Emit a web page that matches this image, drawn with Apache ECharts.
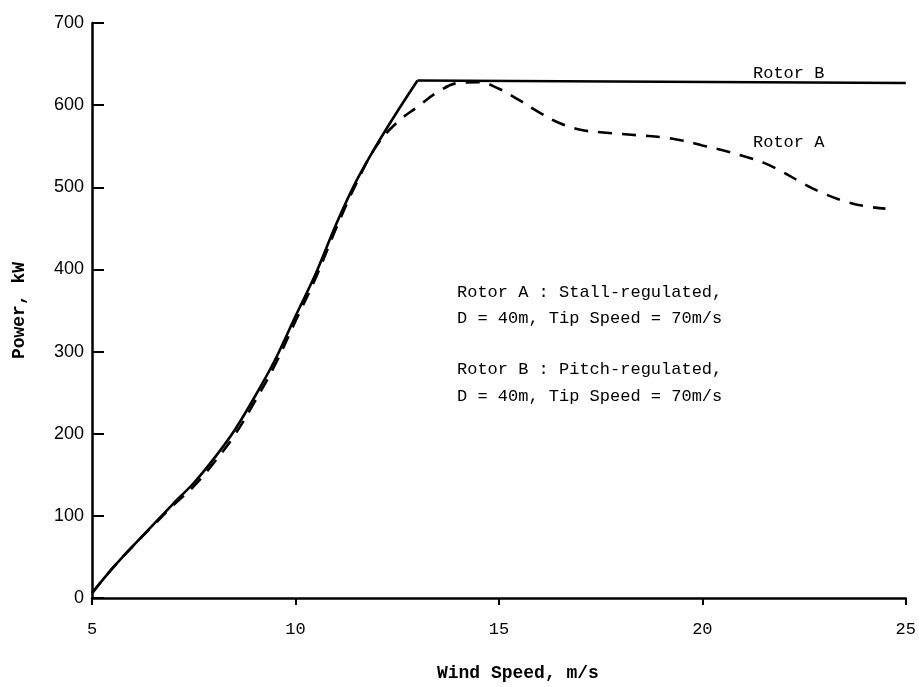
<!DOCTYPE html>
<html><head><meta charset="utf-8">
<script src="https://cdn.jsdelivr.net/npm/echarts@6/dist/echarts.min.js"></script>
<style>html,body{margin:0;padding:0;background:#fff}#c{width:919px;height:687px}</style>
</head><body><div id="c"></div>
<script>
// Rotor B (pitch-regulated, solid): rises to rated power at 13 m/s, then flat
const windB = [5, 5.5, 6, 6.5, 7, 7.5, 8, 8.5, 9, 9.5, 10, 10.5, 11, 11.5, 12, 12.5, 13, 25];
const powerB = [6, 36, 63, 89, 115, 140, 170, 204, 245, 290, 343, 395, 455, 508, 552, 592, 630, 627];
const ratedIndexB = 16; // index of the 13 m/s corner
// Rotor A (stall-regulated, dashed)
const windA = [5, 5.5, 6, 6.5, 7, 7.5, 8, 8.5, 9, 9.5, 10, 10.5, 11, 11.5, 12, 12.5, 13, 13.5, 14, 14.5, 15, 15.5, 16, 16.5, 17, 17.5, 18, 18.5, 19, 19.5, 20, 20.5, 21, 21.5, 22, 22.5, 23, 23.5, 24, 24.5];
const powerA = [6, 36, 63, 88, 113, 136, 165, 198, 239, 284, 337, 390, 450, 505, 551, 579, 598, 616, 627, 628, 620, 606, 591, 578, 570, 567, 565, 563, 561, 557, 551, 545, 538, 530, 518, 504, 492, 483, 477, 474];
const xTicks = [5, 10, 15, 20, 25];
const yTicks = [0, 100, 200, 300, 400, 500, 600, 700];
const xTitle = 'Wind Speed, m/s';
const yTitle = 'Power, kW';
const labelA = 'Rotor A';
const labelB = 'Rotor B';
const notes = ['Rotor A : Stall-regulated,', 'D = 40m, Tip Speed = 70m/s', 'Rotor B : Pitch-regulated,', 'D = 40m, Tip Speed = 70m/s'];

const mono = '"Liberation Mono", "DejaVu Sans Mono", monospace';
const sans = '"Liberation Sans", Arial, sans-serif';

const pairsB = windB.map((w, i) => [w, powerB[i]]);
const chart = echarts.init(document.getElementById('c'));
const noteY = [293, 319, 370, 397];
chart.setOption({
  animation: false,
  backgroundColor: '#fff',
  grid: { left: 92, right: 12, top: 23, bottom: 88, containLabel: false },
  xAxis: {
    type: 'value', min: xTicks[0], max: xTicks[xTicks.length - 1], interval: 5,
    name: xTitle, nameLocation: 'middle', nameGap: 66,
    nameTextStyle: { fontFamily: mono, fontSize: 18, fontWeight: 'bold', color: '#000', padding: [0, 0, 0, 38] },
    axisLine: { lineStyle: { color: '#000', width: 2.5 } },
    axisTick: { inside: false, length: 7, lineStyle: { color: '#000', width: 2 } },
    axisLabel: { fontFamily: mono, fontSize: 17, color: '#000', margin: 23 },
    splitLine: { show: false }
  },
  yAxis: {
    type: 'value', min: yTicks[0], max: yTicks[yTicks.length - 1], interval: 100,
    name: yTitle, nameLocation: 'middle', nameGap: 64,
    nameTextStyle: { fontFamily: mono, fontSize: 18, fontWeight: 'bold', color: '#000' },
    axisLine: { lineStyle: { color: '#000', width: 2.5 } },
    axisTick: { inside: true, length: 12, lineStyle: { color: '#000', width: 2 } },
    axisLabel: { fontFamily: sans, fontSize: 18, color: '#000', margin: 8 },
    splitLine: { show: false }
  },
  series: [
    {
      name: labelB, type: 'line', showSymbol: false, smooth: 0.3,
      data: pairsB.slice(0, ratedIndexB + 1),
      lineStyle: { color: '#000', width: 2.6 }
    },
    {
      name: labelB, type: 'line', showSymbol: false, smooth: false,
      data: pairsB.slice(ratedIndexB),
      lineStyle: { color: '#000', width: 2.6 }
    },
    {
      name: labelA, type: 'line', showSymbol: false, smooth: 0.4,
      data: windA.map((w, i) => [w, powerA[i]]),
      lineStyle: { color: '#000', width: 2.6, type: [14, 10] }
    }
  ],
  graphic: [
    { type: 'text', left: 753, top: 74 - 9, style: { text: labelB, font: '17px ' + mono, fill: '#000' } },
    { type: 'text', left: 753, top: 143 - 9, style: { text: labelA, font: '17px ' + mono, fill: '#000' } }
  ].concat(notes.map((t, i) => ({
    type: 'text', left: 457, top: noteY[i] - 9, style: { text: t, font: '17px ' + mono, fill: '#000' }
  })))
});
</script></body></html>
